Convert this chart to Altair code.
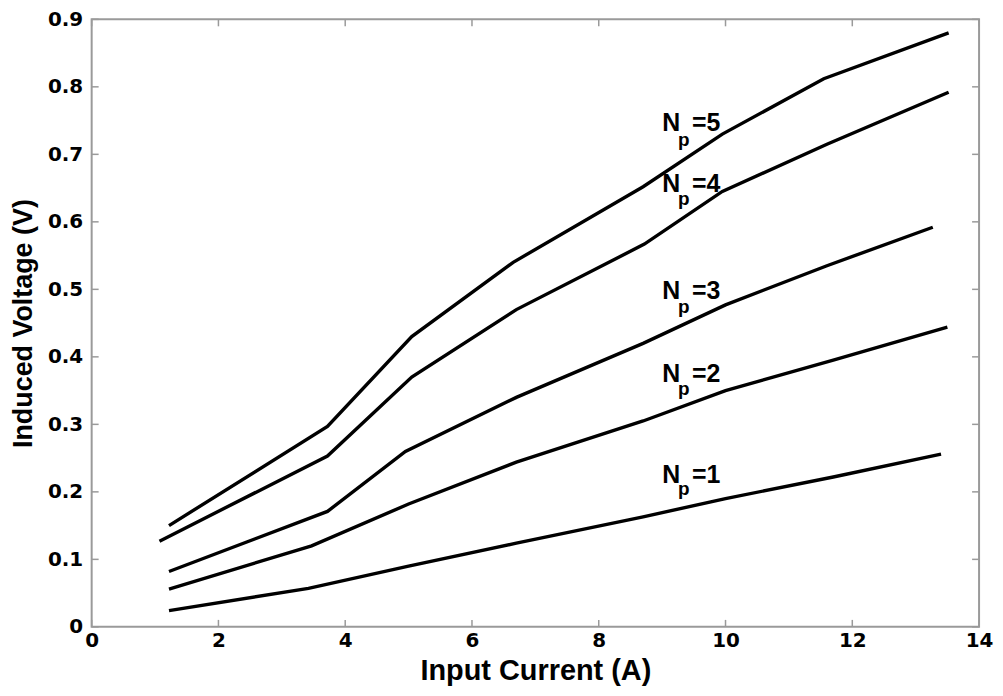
import altair as alt
import pandas as pd

# ---- data ----
x_np5 = [1.22, 3.72, 5.05, 6.65, 8.70, 9.95, 11.55, 13.52]
y_np5 = [0.150, 0.297, 0.430, 0.540, 0.652, 0.730, 0.812, 0.880]

x_np4 = [1.07, 3.72, 5.05, 6.70, 8.72, 9.95, 11.60, 13.52]
y_np4 = [0.127, 0.253, 0.370, 0.470, 0.567, 0.645, 0.715, 0.792]

x_np3 = [1.22, 3.72, 4.95, 6.70, 8.70, 10.00, 11.60, 13.27]
y_np3 = [0.082, 0.171, 0.260, 0.340, 0.420, 0.477, 0.535, 0.592]

x_np2 = [1.22, 3.47, 5.00, 6.70, 8.70, 10.00, 11.70, 13.50]
y_np2 = [0.056, 0.120, 0.182, 0.244, 0.305, 0.350, 0.395, 0.444]

x_np1 = [1.22, 3.42, 5.00, 6.70, 8.70, 10.00, 11.70, 13.40]
y_np1 = [0.024, 0.057, 0.090, 0.124, 0.163, 0.190, 0.222, 0.256]

series_names = ["Np=5", "Np=4", "Np=3", "Np=2", "Np=1"]
series_x = [x_np5, x_np4, x_np3, x_np2, x_np1]
series_y = [y_np5, y_np4, y_np3, y_np2, y_np1]

# labels "N_p=k"
label_k = ["=5", "=4", "=3", "=2", "=1"]
label_N_x = [9.00, 9.00, 9.00, 9.00, 9.00]
label_sub_x = [9.25, 9.25, 9.25, 9.25, 9.25]
label_eq_x = [9.47, 9.47, 9.47, 9.47, 9.47]
label_N_y = [0.735, 0.644, 0.485, 0.3625, 0.2136]
label_sub_y = [0.713, 0.6244, 0.4648, 0.343, 0.196]

x_ticks = [0, 2, 4, 6, 8, 10, 12, 14]
y_ticks = [0, 0.1, 0.2, 0.3, 0.4, 0.5, 0.6, 0.7, 0.8, 0.9]

W, H = 891, 610
GRAY = "#9a9a9a"

rows = []
for name, xs, ys in zip(series_names, series_x, series_y):
    for i, (a, b) in enumerate(zip(xs, ys)):
        rows.append({"series": name, "x": a, "y": b, "i": i})
df = pd.DataFrame(rows)

lab = pd.DataFrame({
    "k": label_k, "nx": label_N_x, "ny": label_N_y,
    "sx": label_sub_x, "sy": label_sub_y, "ex": label_eq_x,
})
xt = pd.DataFrame({"v": x_ticks})
yt = pd.DataFrame({"v": y_ticks})

xscale = alt.Scale(domain=[0, 14], nice=False, zero=False)
yscale = alt.Scale(domain=[0, 0.9], nice=False, zero=False)

xaxis = alt.Axis(
    values=x_ticks, format="d", title="Input Current (A)",
    ticks=False, domain=False, grid=False, labelFlush=False,
    labelFont="DejaVu Sans", labelFontWeight="bold", labelFontSize=20,
    labelColor="black", labelPadding=4,
    titleFont="Liberation Sans", titleFontWeight="bold", titleFontSize=29,
    titleColor="black", titlePadding=6,
)
yaxis = alt.Axis(
    values=y_ticks, format=".1~f", title="Induced Voltage (V)",
    ticks=False, domain=False, grid=False, labelFlush=False,
    labelFont="DejaVu Sans", labelFontWeight="bold", labelFontSize=20,
    labelColor="black", labelPadding=9,
    titleFont="Liberation Sans", titleFontWeight="bold", titleFontSize=27,
    titleColor="black", titlePadding=10,
)

lines = alt.Chart(df).mark_line(color="black", strokeWidth=3.4).encode(
    x=alt.X("x:Q", scale=xscale, axis=xaxis),
    y=alt.Y("y:Q", scale=yscale, axis=yaxis),
    detail="series:N",
    order="i:Q",
)

tick_style = dict(color=GRAY, strokeWidth=1.5)
xt_bottom = alt.Chart(xt).mark_rule(**tick_style).encode(
    x=alt.X("v:Q", scale=xscale), y=alt.value(H), y2=alt.value(H - 7))
xt_top = alt.Chart(xt).mark_rule(**tick_style).encode(
    x=alt.X("v:Q", scale=xscale), y=alt.value(0), y2=alt.value(7))
yt_left = alt.Chart(yt).mark_rule(**tick_style).encode(
    y=alt.Y("v:Q", scale=yscale), x=alt.value(0), x2=alt.value(7))
yt_right = alt.Chart(yt).mark_rule(**tick_style).encode(
    y=alt.Y("v:Q", scale=yscale), x=alt.value(W), x2=alt.value(W - 7))

txt_common = dict(font="Liberation Sans", fontWeight="bold", color="black",
                  align="left", baseline="alphabetic")
t_N = alt.Chart(lab).mark_text(fontSize=25, **txt_common).encode(
    x=alt.X("nx:Q", scale=xscale), y=alt.Y("ny:Q", scale=yscale),
    text=alt.value("N"))
t_p = alt.Chart(lab).mark_text(fontSize=19, **txt_common).encode(
    x=alt.X("sx:Q", scale=xscale), y=alt.Y("sy:Q", scale=yscale),
    text=alt.value("p"))
t_eq = alt.Chart(lab).mark_text(fontSize=25, **txt_common).encode(
    x=alt.X("ex:Q", scale=xscale), y=alt.Y("ny:Q", scale=yscale),
    text="k:N")

chart = alt.layer(
    lines, xt_bottom, xt_top, yt_left, yt_right, t_N, t_p, t_eq
).properties(
    width=W, height=H,
    autosize=alt.AutoSizeParams(type="none"),
    padding={"left": 84, "top": 10, "right": 16, "bottom": 60},
    background="white",
).configure_view(
    stroke=GRAY, strokeWidth=2
)

chart.save("out.html", embed_options={"renderer": "svg", "actions": False})
